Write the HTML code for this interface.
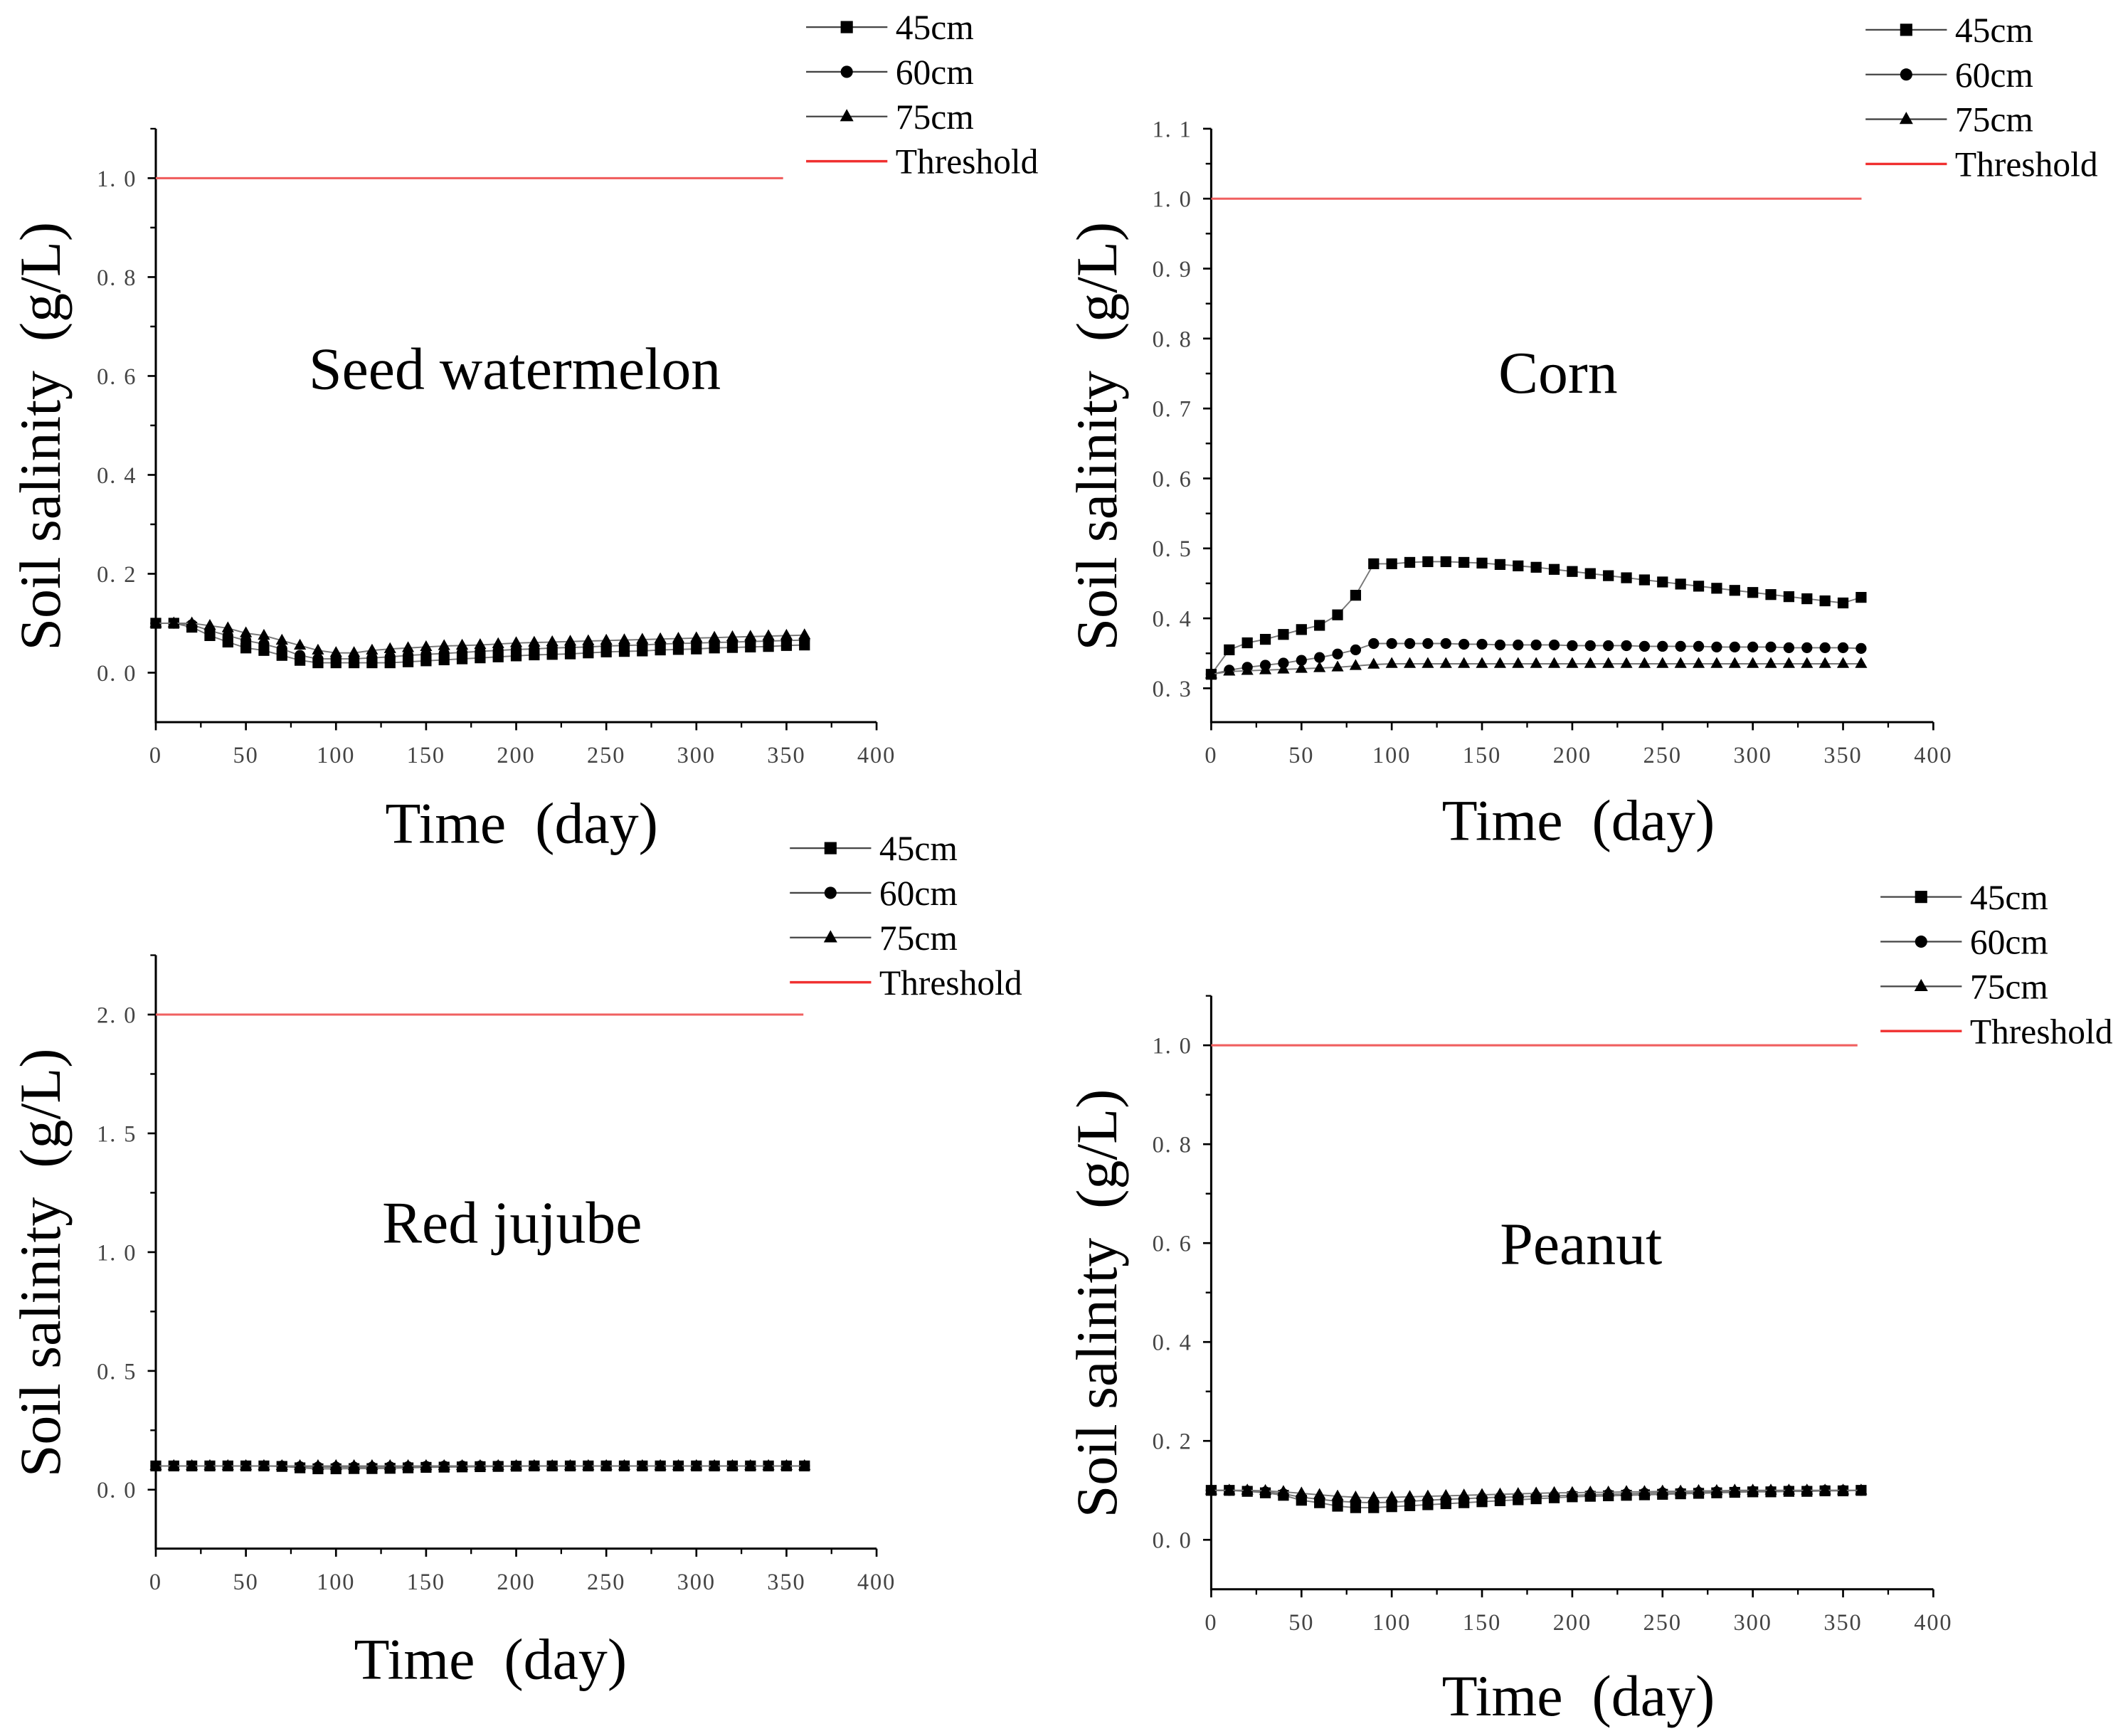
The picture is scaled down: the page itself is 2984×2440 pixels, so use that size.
<!DOCTYPE html>
<html><head><meta charset="utf-8"><style>
html,body{margin:0;padding:0;background:#fff;width:2984px;height:2440px;overflow:hidden}
svg{display:block}
.tk{font-family:"Liberation Serif",serif;font-size:17px;fill:#444;letter-spacing:1px}
.ttl{font-family:"Liberation Serif",serif;font-size:44px;fill:#000}
.ax{font-family:"Liberation Serif",serif;font-size:43px;fill:#000}
.lg{font-family:"Liberation Serif",serif;font-size:26px;fill:#000}
</style></head><body>
<svg id="chart" width="2984" height="2440" viewBox="0 0 1567 1281.3" preserveAspectRatio="none" xmlns="http://www.w3.org/2000/svg"></svg>
<script>
const days = [0,10,20,30,40,50,60,70,80,90,100,110,120,130,140,150,160,170,180,190,200,210,220,230,240,250,260,270,280,290,300,310,320,330,340,350,360];
const seriesNames = ["45cm","60cm","75cm"];
// Seed watermelon
const wm45 = [0.1,0.1,0.092,0.075,0.062,0.05,0.045,0.035,0.025,0.02,0.02,0.02,0.02,0.02,0.022,0.024,0.026,0.028,0.03,0.032,0.034,0.036,0.037,0.038,0.04,0.042,0.043,0.044,0.046,0.047,0.048,0.05,0.051,0.052,0.053,0.055,0.056];
const wm60 = [0.1,0.1,0.097,0.085,0.075,0.065,0.058,0.048,0.035,0.028,0.028,0.028,0.03,0.032,0.035,0.037,0.039,0.041,0.043,0.045,0.047,0.048,0.05,0.051,0.052,0.054,0.055,0.056,0.058,0.059,0.06,0.061,0.062,0.063,0.064,0.065,0.066];
const wm75 = [0.1,0.1,0.1,0.095,0.09,0.08,0.075,0.065,0.055,0.045,0.04,0.04,0.045,0.048,0.05,0.052,0.054,0.055,0.056,0.058,0.06,0.061,0.062,0.063,0.064,0.065,0.066,0.067,0.068,0.069,0.07,0.071,0.072,0.073,0.074,0.075,0.076];
// Corn
const cn45 = [0.32,0.355,0.365,0.37,0.377,0.384,0.39,0.405,0.433,0.478,0.478,0.48,0.481,0.481,0.48,0.479,0.477,0.475,0.473,0.47,0.467,0.464,0.461,0.458,0.455,0.452,0.449,0.446,0.443,0.44,0.437,0.434,0.431,0.428,0.425,0.422,0.43];
const cn60 = [0.32,0.326,0.33,0.333,0.336,0.34,0.344,0.349,0.355,0.364,0.364,0.364,0.364,0.364,0.363,0.363,0.362,0.362,0.362,0.362,0.361,0.361,0.361,0.361,0.36,0.36,0.36,0.36,0.359,0.359,0.359,0.359,0.358,0.358,0.358,0.358,0.357];
const cn75 = [0.32,0.324,0.325,0.326,0.327,0.328,0.329,0.33,0.332,0.334,0.335,0.335,0.335,0.335,0.335,0.335,0.335,0.335,0.335,0.335,0.335,0.335,0.335,0.335,0.335,0.335,0.335,0.335,0.335,0.335,0.335,0.335,0.335,0.335,0.335,0.335,0.335];
// Red jujube
const rj45 = [0.1,0.1,0.1,0.1,0.1,0.1,0.1,0.098,0.092,0.088,0.088,0.089,0.089,0.09,0.092,0.094,0.095,0.096,0.097,0.098,0.099,0.1,0.1,0.1,0.1,0.1,0.1,0.1,0.1,0.1,0.1,0.1,0.1,0.1,0.1,0.1,0.1];
const rj60 = [0.1,0.1,0.1,0.1,0.1,0.1,0.1,0.1,0.097,0.095,0.095,0.095,0.095,0.096,0.097,0.098,0.099,0.1,0.1,0.1,0.1,0.1,0.1,0.1,0.1,0.1,0.1,0.1,0.1,0.1,0.1,0.1,0.1,0.1,0.1,0.1,0.1];
const rj75 = [0.1,0.1,0.1,0.1,0.1,0.1,0.1,0.1,0.1,0.1,0.1,0.1,0.1,0.1,0.1,0.1,0.1,0.1,0.1,0.1,0.1,0.1,0.1,0.1,0.1,0.1,0.1,0.1,0.1,0.1,0.1,0.1,0.1,0.1,0.1,0.1,0.1];
// Peanut
const pn45 = [0.1,0.1,0.098,0.095,0.09,0.08,0.075,0.068,0.065,0.065,0.067,0.069,0.071,0.073,0.075,0.077,0.079,0.081,0.083,0.085,0.087,0.088,0.089,0.09,0.091,0.092,0.093,0.094,0.095,0.096,0.097,0.097,0.098,0.098,0.099,0.099,0.1];
const pn60 = [0.1,0.1,0.099,0.097,0.093,0.086,0.082,0.078,0.076,0.075,0.076,0.078,0.08,0.082,0.083,0.085,0.086,0.087,0.088,0.089,0.09,0.091,0.092,0.093,0.094,0.095,0.095,0.096,0.097,0.097,0.098,0.098,0.099,0.099,0.1,0.1,0.1];
const pn75 = [0.1,0.1,0.1,0.099,0.097,0.094,0.091,0.088,0.086,0.085,0.086,0.087,0.088,0.089,0.09,0.091,0.092,0.093,0.094,0.095,0.095,0.096,0.096,0.097,0.097,0.098,0.098,0.099,0.099,0.1,0.1,0.1,0.1,0.1,0.1,0.1,0.1];
const xTicks = [0,50,100,150,200,250,300,350,400];
const wmTicks = [0,0.2,0.4,0.6,0.8,1.0];
const cnTicks = [0.3,0.4,0.5,0.6,0.7,0.8,0.9,1.0,1.1];
const rjTicks = [0,0.5,1.0,1.5,2.0];
const pnTicks = [0,0.2,0.4,0.6,0.8,1.0];

const NS="http://www.w3.org/2000/svg";
const svg=document.getElementById('chart');
function mk(tag,attrs,parent){const e=document.createElementNS(NS,tag);for(const k in attrs)e.setAttribute(k,attrs[k]);(parent||svg).appendChild(e);return e;}

function panel(p){
  const g=mk('g',{});
  
  
  const X=v=>p.x0+(v-0)/(400)*(p.x1-p.x0);
  const Y=v=>p.yb+(v-p.ymin)/(p.ymax-p.ymin)*(p.yt-p.yb);
  const ax=mk('path',{d:`M${p.x0},${p.yt}V${p.yb}H${p.x1}`,stroke:'#000','stroke-width':1.6,fill:'none'},g);
  
  
  xTicks.forEach((t,i)=>{
    mk('line',{x1:X(t),x2:X(t),y1:p.yb,y2:p.yb+6,stroke:'#000','stroke-width':1.4},g);
    if(i<xTicks.length-1) mk('line',{x1:X(t+25),x2:X(t+25),y1:p.yb,y2:p.yb+4,stroke:'#000','stroke-width':1.2},g);
    const tx=mk('text',{x:X(t),y:p.yb+30,'text-anchor':'middle',class:'tk'},g);tx.textContent=t;
    
    
  });
  const step=p.ticks[1]-p.ticks[0];
  p.ticks.forEach(t=>{
    mk('line',{x1:p.x0-6,x2:p.x0,y1:Y(t),y2:Y(t),stroke:'#000','stroke-width':1.4},g);
    if(Y(t+step/2)>p.yt-1) mk('line',{x1:p.x0-4,x2:p.x0,y1:Y(t+step/2),y2:Y(t+step/2),stroke:'#000','stroke-width':1.2},g);
    if(Y(t-step/2)<p.yb) mk('line',{x1:p.x0-4,x2:p.x0,y1:Y(t-step/2),y2:Y(t-step/2),stroke:'#000','stroke-width':1.2},g);
    const ty=mk('text',{x:p.x0-14,y:Y(t)+6,'text-anchor':'end',class:'tk'},g);ty.textContent=t.toFixed(1).replace('.','. ');
    
    
  });
  const th=mk('line',{x1:p.x0,x2:p.thx,y1:Y(p.thr),y2:Y(p.thr),stroke:'#f06060','stroke-width':1.6},g);
  
  
  const shapes=['sq','ci','tr'];
  p.series.forEach((s,si)=>{
    const sg=mk('g',{},g);
    
    
    mk('polyline',{points:days.map((d,i)=>X(d)+','+Y(s[i])).join(' '),fill:'none',stroke:'#777','stroke-width':1},sg);
    days.forEach((d,i)=>marker(sg,shapes[si],X(d),Y(s[i]),4));
  });
  const t1=mk('text',{x:p.tx,y:p.ty,'text-anchor':'middle',class:'ttl'},g);t1.textContent=p.title;
  
  
  const xt=mk('text',{x:p.xtx,y:p.xty,'text-anchor':'middle',class:'ax'},g);xt.textContent='Time\u2002(day)';
  
  
  const cy=(p.yt+p.yb)/2+8;
  const yt=mk('text',{x:p.ytx,y:cy,'text-anchor':'middle',class:'ax',transform:`rotate(-90 ${p.ytx} ${cy})`},g);yt.textContent='Soil salinity\u2002(g/L)';
  
  
  const lgd=mk('g',{},g);
  
  
  const labels=['45cm','60cm','75cm','Threshold'];
  labels.forEach((l,i)=>{
    const y=p.ly+i*33;
    const e=mk('g',{},lgd);
    
    
    mk('line',{x1:p.lx,x2:p.lx+60,y1:y,y2:y,stroke:i==3?'#f03030':'#444','stroke-width':i==3?1.8:1.2},e);
    if(i<3) marker(e,shapes[i],p.lx+30,y,4.5);
    const t=mk('text',{x:p.lx+66,y:y+9,class:'lg'},e);t.textContent=l;
  });
}
function marker(g,s,x,y,r){
  if(s==='sq') mk('rect',{x:x-r,y:y-r,width:2*r,height:2*r,fill:'#000'},g);
  else if(s==='ci') mk('circle',{cx:x,cy:y,r:r,fill:'#000'},g);
  else mk('polygon',{points:`${x},${y-r-1} ${x-r-0.5},${y+r-1} ${x+r+0.5},${y+r-1}`,fill:'#000'},g);
}
panel({name:'seed-watermelon',title:'Seed watermelon',x0:115,x1:647,yt:95,yb:533,ymin:-0.1,ymax:1.1,ticks:wmTicks,thr:1.0,thx:578,series:[wm45,wm60,wm75],tx:380,ty:287,xtx:385,xty:622,ytx:44,lx:595,ly:20});
panel({name:'corn',title:'Corn',x0:894,x1:1427,yt:95,yb:533,ymin:0.2516,ymax:1.1,ticks:cnTicks,thr:1.0,thx:1374,series:[cn45,cn60,cn75],tx:1150,ty:290,xtx:1165,xty:620,ytx:824,lx:1377,ly:22});
panel({name:'red-jujube',title:'Red jujube',x0:115,x1:647,yt:705,yb:1143,ymin:-0.248,ymax:2.25,ticks:rjTicks,thr:2.0,thx:593,series:[rj45,rj60,rj75],tx:378,ty:917,xtx:362,xty:1239,ytx:44,lx:583,ly:626});
panel({name:'peanut',title:'Peanut',x0:894,x1:1427,yt:735,yb:1173,ymin:-0.1,ymax:1.1,ticks:pnTicks,thr:1.0,thx:1371,series:[pn45,pn60,pn75],tx:1167,ty:933,xtx:1165,xty:1266,ytx:824,lx:1388,ly:662});
</script>
</body></html>
